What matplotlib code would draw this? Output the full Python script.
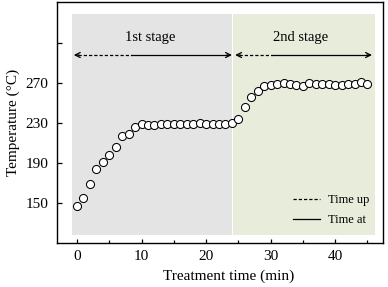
import matplotlib
matplotlib.use("Agg")
import matplotlib.pyplot as plt
from matplotlib.lines import Line2D
from matplotlib.ticker import MultipleLocator, FixedLocator

plt.rcParams['font.family'] = ['Liberation Serif', 'DejaVu Serif']

time_min = list(range(0, 46))
temperature = [147, 155, 169, 184, 191, 198, 206, 217, 219, 226,
               229, 228, 228, 229, 229, 229, 229, 229, 229, 230,
               229, 229, 229, 229, 230, 234, 246, 256, 262, 267,
               268, 269, 270, 269, 268, 267, 270, 269, 269, 269,
               268, 268, 269, 269, 271, 269]

stage_labels = ["1st stage", "2nd stage"]
stage_spans = [(-0.8, 23.95), (24.2, 46.2)]
stage_colors = ["#e4e4e4", "#e8ecdb"]
stage_arrows = [(-0.5, 8.4, 24.0), (24.5, 30.2, 45.7)]
stage_text_x = [11.3, 34.6]
arrow_y = 298
legend_labels = ["Time up", "Time at"]
xticks = [0, 10, 20, 30, 40]
yticks = [150, 190, 230, 270]

fig = plt.figure(figsize=(3.88, 2.87), dpi=100)
ax = fig.add_axes([0.147, 0.153, 0.840, 0.840])

for (x0, x1), c in zip(stage_spans, stage_colors):
    ax.fill_between([x0, x1], 118, 339, color=c, lw=0, zorder=0)

dash = (0, (2.6, 1.6))
for (xa, xm, xb), lab, tx in zip(stage_arrows, stage_labels, stage_text_x):
    ax.plot([xa + 0.6, xm], [arrow_y, arrow_y], color='black', lw=0.9, linestyle=dash, zorder=2)
    ax.plot([xm, xb - 0.6], [arrow_y, arrow_y], color='black', lw=0.9, zorder=2)
    ax.annotate('', xy=(xa, arrow_y), xytext=(xa + 0.8, arrow_y),
                arrowprops=dict(arrowstyle='->', lw=0.9, color='black',
                                shrinkA=0, shrinkB=0, mutation_scale=9))
    ax.annotate('', xy=(xb, arrow_y), xytext=(xb - 0.8, arrow_y),
                arrowprops=dict(arrowstyle='->', lw=0.9, color='black',
                                shrinkA=0, shrinkB=0, mutation_scale=9))
    ax.text(tx, 316, lab, ha='center', va='center', fontsize=10.5)

ax.plot(time_min, temperature, 'o', ms=5.8, mfc='white', mec='black', mew=0.75, zorder=3)

ax.set_xlim(-3.1, 47.4)
ax.set_ylim(110, 351)
ax.xaxis.set_major_locator(FixedLocator(xticks))
ax.xaxis.set_minor_locator(MultipleLocator(5))
ax.yaxis.set_major_locator(FixedLocator(yticks + [310]))
ax.set_yticklabels([str(v) for v in yticks] + [''])
ax.tick_params(which='both', direction='in', labelsize=11, top=False, right=False, width=0.9)
ax.tick_params(which='major', length=3)
ax.tick_params(which='minor', length=2)
ax.tick_params(axis='y', length=3.5, pad=6)
ax.tick_params(axis='x', pad=5)
for s in ax.spines.values():
    s.set_linewidth(1.0)

ax.set_xlabel("Treatment time (min)", fontsize=11, labelpad=3)
ax.xaxis.set_label_coords(0.525, -0.11)
ax.set_ylabel("Temperature (°C)", fontsize=11, labelpad=4)

handles = [Line2D([], [], color='black', lw=0.9, linestyle=dash),
           Line2D([], [], color='black', lw=0.9)]
ax.legend(handles, legend_labels, loc='lower right', bbox_to_anchor=(0.985, 0.035),
          frameon=False, fontsize=9, handlelength=2.2, handletextpad=0.6,
          labelspacing=0.6, borderpad=0.2)

fig.savefig("out.png", dpi=100)
